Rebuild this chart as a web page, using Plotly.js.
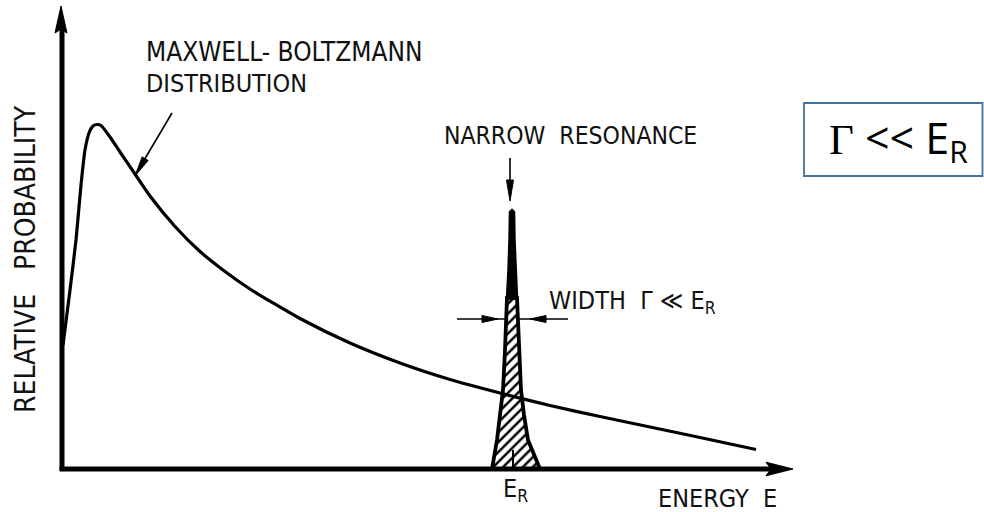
<!DOCTYPE html>
<html>
<head>
<meta charset="utf-8">
<script src="https://cdn.plot.ly/plotly-3.0.1.min.js"></script>
<style>html,body{margin:0;padding:0;background:#fff;}#chart{width:984px;height:512px;}</style>
</head>
<body>
<div id="chart"></div>
<script>
// Maxwell-Boltzmann distribution (energy, relative probability), arbitrary units
var mbEnergy = [0.01,0.08,0.14,0.19,0.23,0.27,0.31,0.35,0.39,0.48,0.58,0.73,0.88,1.13,1.38,1.63,1.88,2.38,2.88,3.38,3.88,4.38,4.88,5.38,5.88,6.38,6.94];
var mbProb   = [1.24,1.79,2.29,2.84,3.19,3.36,3.43,3.445,3.435,3.32,3.17,2.95,2.73,2.425,2.175,1.975,1.80,1.505,1.26,1.06,0.895,0.76,0.635,0.525,0.42,0.315,0.195];

// Narrow resonance at E_R: solid tip part and hatched base part (closed outlines)
var resTipE  = [4.45,4.458,4.465,4.475,4.48,4.50,4.52,4.525,4.535,4.542,4.55,4.45];
var resTipP  = [1.71,1.85,1.99,2.29,2.57,2.59,2.57,2.29,1.99,1.85,1.71,1.71];
var resBaseE = [4.30,4.35,4.38,4.41,4.43,4.445,4.45,4.55,4.56,4.575,4.59,4.62,4.66,4.78,4.30];
var resBaseP = [0.00,0.29,0.54,0.79,1.19,1.49,1.71,1.71,1.49,1.19,0.79,0.54,0.29,0.00,0.00];
var resCenterE = [4.51,4.51];
var resCenterP = [0.00,0.19];

// Labels
var yTitle = 'RELATIVE   PROBABILITY';
var xTitle = 'ENERGY  E';
var mbLabel1 = 'MAXWELL- BOLTZMANN';
var mbLabel2 = 'DISTRIBUTION';
var resLabel = 'NARROW  RESONANCE';
var widthLabel = 'WIDTH  \u0393 \u226A E<sub>R</sub>';
var erLabel = 'E<sub>R</sub>';
var boxLabel = '<span style="font-family:\'Liberation Serif\',serif">\u0393</span> &lt;&lt; E<sub>R</sub>';

var F = "'Liberation Sans Narrow','DejaVu Sans Condensed',sans-serif";

var traces = [
  {x: resBaseE, y: resBaseP, mode: 'lines', fill: 'toself', fillcolor: 'white',
   fillpattern: {shape: '/', fgcolor: 'black', bgcolor: 'white', size: 7, solidity: 0.35},
   line: {color: 'black', width: 3.8}, hoverinfo: 'skip'},
  {x: resTipE, y: resTipP, mode: 'lines', fill: 'toself', fillcolor: 'black',
   line: {color: 'black', width: 2.5}, hoverinfo: 'skip'},
  {x: resCenterE, y: resCenterP, mode: 'lines', line: {color: 'black', width: 2}, hoverinfo: 'skip'},
  {x: mbEnergy, y: mbProb, mode: 'lines', line: {color: 'black', width: 3.2, shape: 'spline', smoothing: 0.6}, hoverinfo: 'skip'}
];

function seg(x0, y0, x1, y1, w, layer) {
  return {type: 'line', xref: 'x', yref: 'y', x0: x0, y0: y0, x1: x1, y1: y1, layer: layer || 'above',
    line: {color: 'black', width: w}};
}
function head(p) {
  return {type: 'path', xref: 'x', yref: 'y', path: p, fillcolor: 'black', line: {color: 'black', width: 1}};
}
function label(text, x, y, size) {
  return {x: x, y: y, xref: 'x', yref: 'y', text: text, showarrow: false, xanchor: 'left', yanchor: 'middle',
    font: {family: F, size: size, color: '#111'}};
}

var layout = {
  width: 984, height: 512,
  margin: {l: 0, r: 0, t: 0, b: 0},
  paper_bgcolor: 'white', plot_bgcolor: 'white',
  showlegend: false,
  xaxis: {range: [-0.62, 9.22], showgrid: false, zeroline: false, showticklabels: false, showline: false, ticks: ''},
  yaxis: {range: [-0.43, 4.69], showgrid: false, zeroline: false, showticklabels: false, showline: false, ticks: ''},
  shapes: [
    // axes with arrowheads
    seg(0, -0.01, 0, 4.40, 5),
    seg(-0.025, 0, 7.10, 0, 5),
    head('M -0.07,4.36 L -0.01,4.63 L 0.05,4.36 L -0.01,4.40 Z'),
    head('M 7.04,0.068 L 7.31,0 L 7.04,-0.068 L 7.09,0 Z'),
    // Maxwell-Boltzmann pointer
    seg(1.10, 3.56, 0.78, 3.02, 1.6),
    head('M 0.73,2.93 L 0.861,3.085 L 0.801,3.121 Z'),
    // resonance pointer
    seg(4.48, 3.11, 4.48, 2.86, 1.6),
    head('M 4.48,2.68 L 4.445,2.89 L 4.515,2.89 Z'),
    // width arrows
    seg(3.95, 1.50, 5.06, 1.50, 1.6, 'below'),
    head('M 4.36,1.50 L 4.20,1.535 L 4.20,1.465 Z'),
    head('M 4.68,1.50 L 4.84,1.535 L 4.84,1.465 Z'),
    // box
    {type: 'rect', xref: 'x', yref: 'y', x0: 7.42, y0: 2.93, x1: 9.205, y1: 3.66, line: {color: '#41719c', width: 1.8}, fillcolor: 'rgba(0,0,0,0)'}
  ],
  annotations: [
    label(mbLabel1, 0.82, 4.17, 26),
    label(mbLabel2, 0.82, 3.86, 25),
    label(resLabel, 3.80, 3.34, 24.5),
    label(widthLabel, 4.85, 1.67, 25),
    label(erLabel, 4.39, -0.21, 25),
    label(xTitle, 5.94, -0.29, 25),
    {x: -0.37, y: 2.10, xref: 'x', yref: 'y', text: yTitle, showarrow: false, textangle: -90,
     xanchor: 'center', yanchor: 'middle', font: {family: F, size: 28, color: '#111'}},
    {x: 8.36, y: 3.29, xref: 'x', yref: 'y', text: boxLabel, showarrow: false, xanchor: 'center', yanchor: 'middle',
     font: {family: "'Open Sans','Liberation Sans',sans-serif", size: 43, color: 'black'}}
  ]
};

Plotly.newPlot('chart', traces, layout, {staticPlot: true, displayModeBar: false});
</script>
</body>
</html>
